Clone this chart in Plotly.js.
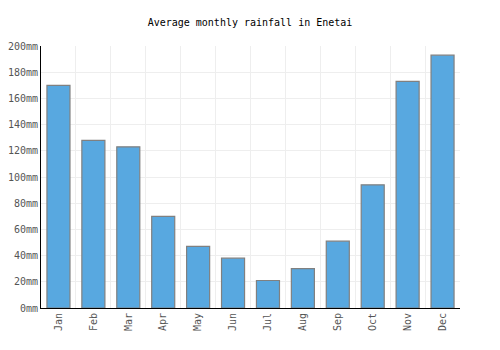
<!DOCTYPE html>
<html><head><meta charset="utf-8">
<script src="https://cdn.plot.ly/plotly-3.0.1.min.js"></script>
<style>body{margin:0;padding:0;background:#fff}#chart{width:500px;height:350px}</style>
</head><body><div id="chart"></div>
<script>
const months = ["Jan","Feb","Mar","Apr","May","Jun","Jul","Aug","Sep","Oct","Nov","Dec"];
const rainfall = [170,128,123,70,47,38,21,30,51,94,173,193];
const yTicks = [0,20,40,60,80,100,120,140,160,180,200];
const yTickText = yTicks.map(v => v + "mm");

const trace = {
  type: "bar",
  x: months,
  y: rainfall,
  marker: {color: "#58a8e0", line: {color: "#808080", width: 1.2}},
  hoverinfo: "x+y"
};
const font = {family: "DejaVu Sans Mono, monospace", size: 10, color: "#555"};
const layout = {
  width: 500, height: 350,
  margin: {l: 41, r: 40, t: 46, b: 42},
  paper_bgcolor: "#fff", plot_bgcolor: "#fff",
  title: {text: "Average monthly rainfall in Enetai", font: {family: "DejaVu Sans Mono, monospace", size: 10, color: "#000"}, x: 0.5, xanchor: "center", y: 0.935, yanchor: "middle"},
  bargap: 0.34,
  showlegend: false,
  xaxis: {
    type: "category", tickangle: -90, tickfont: font,
    tickson: "boundaries", showgrid: true, gridcolor: "#eeeeee", gridwidth: 1,
    showline: true, linecolor: "#000", linewidth: 1, ticks: "", ticklen: 0,
    mirror: false, zeroline: false
  },
  yaxis: {
    range: [0, 200], tickmode: "array", tickvals: yTicks, ticktext: yTickText, tickfont: font,
    showgrid: true, gridcolor: "#eeeeee", gridwidth: 1,
    showline: true, linecolor: "#000", linewidth: 1, zeroline: false, ticks: ""
  }
};
Plotly.newPlot("chart", [trace], layout, {staticPlot: true});
</script></body></html>
